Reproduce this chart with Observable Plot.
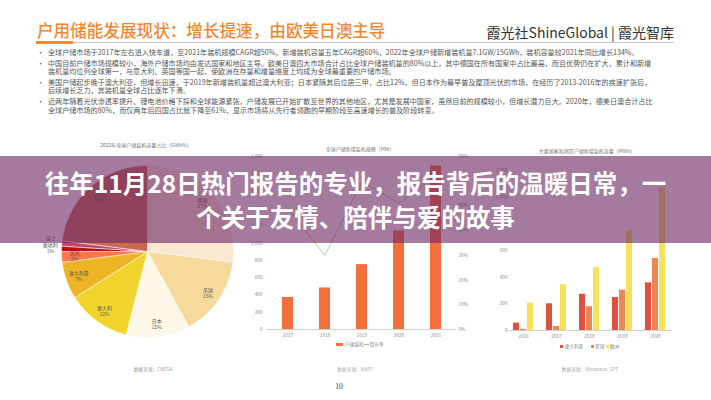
<!DOCTYPE html>
<html><head><meta charset="utf-8">
<script src="https://cdn.jsdelivr.net/npm/d3@7"></script>
<script src="https://cdn.jsdelivr.net/npm/@observablehq/plot@0.6"></script>
<style>
html,body{margin:0;padding:0;background:#fff;}
#page{position:relative;width:711px;height:400px;overflow:hidden;font-family:"Noto Sans CJK SC","Noto Sans",sans-serif;}
.abs{position:absolute;white-space:nowrap;}
.c{transform:translate(-50%,-50%);}
.lm{transform:translate(0,-50%);}
#overlay{position:absolute;left:0;top:156px;width:711px;height:87px;background:rgba(110,40,100,0.62);z-index:10;display:flex;flex-direction:column;justify-content:center;align-items:center;}
#overlay div{color:#fff;font-weight:bold;font-size:24.5px;line-height:34px;text-align:center;white-space:nowrap;}
.bul{font-size:7.1px;color:#555;line-height:8px;}
.small{font-size:5px;color:#888;}
.leg{font-size:4.7px;color:#888;}
</style></head>
<body><div id="page"></div>
<script>
// ---------- data ----------
const headTitle = "户用储能发展现状：增长提速，由欧美日澳主导";
const logoText = "霞光社ShineGlobal | 霞光智库";
const bullets = [
  ["全球户储市场于2017年左右进入快车道，至2021年装机规模CAGR超50%，新增装机容量五年CAGR超60%，2022年全球户储新增装机量7.1GW/15GWh，装机容量较2021年同比增长134%。"],
  ["中国目前户储市场规模较小，海外户储市场均由发达国家和地区主导。欧美日澳四大市场合计占比全球户储装机量的80%以上，其中德国在所有国家中占比最高，而且优势仍在扩大，累计和新增",
   "装机量均位列全球第一，与意大利、英国等国一起，使欧洲在存量和增量维度上均成为全球最重要的户储市场。"],
  ["美国户储起步晚于澳大利亚，但增长迅速，于2019年新增装机量超过澳大利亚；日本紧随其后位居三甲，占比12%，但日本作为最早普及屋顶光伏的市场，在经历了2013-2016年的疾速扩张后，",
   "后续增长乏力，其装机量全球占比逐年下滑。"],
  ["近两年随着光伏渗透率提升、锂电池价格下探和全球能源紧张，户储发展已开始扩散至世界的其他地区，尤其是发展中国家，虽然目前的规模较小，但增长潜力巨大。2020年，德美日澳合计占比",
   "全球户储市场的80%，而仅两年后四国占比就下降至61%，显示市场将从先行者领跑的早期阶段至高速增长的普及阶段转变。"]
];
const overlayLines = ["往年11月28日热门报告的专业，报告背后的温暖日常，一", "个关于友情、陪伴与爱的故事"];

const pieTitle = "2022年全球户储装机容量占比（GWh%）";
const pieLabels = ["德国","美国","日本","意大利","澳大利亚","英国","奥地利","瑞士","其他"];
const pieShares = [27, 15, 12, 12, 7, 2, 1, 1, 23];
const pieSource = "数据来源：CNESA";

const midTitle = "全球户储新增装机规模（MW）";
const midYears = ["2017","2018","2019","2020","2021"];
const midInstall = [370, 480, 750, 1140, 1890];
const midGrowth = [49, 30, 60, 51, 63];
const midSeries = ["户储装机", "增长率"];
const midSource = "数据来源：BNEF";

const rTitle = "主要国家和地区户储新增装机容量（MWh）";
const rYears = ["2016","2017","2018","2019","2020"];
const rSeries = ["澳大利亚","美国","欧洲"];
const rAustralia = [55, 200, 272, 247, 358];
const rUSA = [8, 30, 178, 302, 540];
const rEurope = [205, 343, 472, 745, 1070];
const rSource = "数据来源：Woodmac, SPE";
const pageNo = "10";

// ---------- styles ----------
const pieColors = ["#fce7d2","#f6da9c","#fdf7e8","#f2d52c","#efb326","#f47a4a","#b51414","#c2456a","#c86a52"];
const orange = "#f36f3b", green = "#93cc6e";
const rColors = ["#e0503b","#f08552","#f3e25a"];

const page = document.getElementById("page");
function addText(txt, x, y, cls, style){
  const d = document.createElement("div");
  d.className = "abs " + (cls||"");
  d.textContent = txt;
  d.style.left = x + "px"; d.style.top = y + "px";
  if (style) Object.assign(d.style, style);
  page.appendChild(d); return d;
}
function addBox(x,y,w,h,bg){
  const d = document.createElement("div");
  Object.assign(d.style,{position:"absolute",left:x+"px",top:y+"px",width:w+"px",height:h+"px",background:bg});
  page.appendChild(d); return d;
}

// ---------- header ----------
addText(headTitle, 37, 30, "lm", {fontSize:"16.6px", color:"#ef8731", fontWeight:"500"});
addText(logoText, 674, 32, "", {fontSize:"14px", color:"#333", transform:"translate(-100%,-50%)"});
addBox(36, 42, 638, 1, "#c8c8c8");
addBox(36, 41, 37, 2.5, "#f08a35");
const bulletY = [[52.3],[63.3,71.3],[81.7,89.9],[101,109.6]];
bullets.forEach((b,i)=>{
  addText("•", 37, bulletY[i][0], "lm bul");
  b.forEach((line,j)=> addText(line, 48, bulletY[i][j], "lm bul"));
});

// ---------- pie ----------
const TAU = Math.PI*2;
let acc = 0;
const slices = pieLabels.map((name,i)=>{
  const a0 = acc/100*TAU; acc += pieShares[i]; const a1 = acc/100*TAU;
  return {name, share: pieShares[i], a0, a1, mid:(a0+a1)/2};
});
const piePts = [];
slices.forEach(s=>{
  piePts.push({name:s.name,x:0,y:0});
  const n = Math.max(2, Math.ceil((s.a1-s.a0)/TAU*360));
  for(let k=0;k<=n;k++){const a=s.a0+(s.a1-s.a0)*k/n; piePts.push({name:s.name,x:Math.sin(a),y:Math.cos(a)});}
  piePts.push({name:s.name,x:0,y:0});
});
const big = slices.filter(s=>s.share>1);
const pieSvg = Plot.plot({
  width:300, height:230, margin:0,
  x:{domain:[-1,1], range:[61,233], axis:null},
  y:{domain:[-1,1], range:[187,15], axis:null},
  color:{domain:pieLabels, range:pieColors},
  style:{fontFamily:'"Noto Sans CJK SC",sans-serif', overflow:"visible", background:"transparent"},
  marks:[
    Plot.line(piePts,{x:"x",y:"y",z:"name",fill:"name",stroke:"#fff",strokeWidth:0.5}),
    Plot.text(big,{x:d=>0.85*Math.sin(d.mid), y:d=>0.85*Math.cos(d.mid), text:d=>d.name+"\n"+d.share+"%", fontSize:5, fill:"#555", lineHeight:1.2}),
    Plot.text(slices.filter(s=>s.name==="奥地利"),{x:d=>1.13*Math.sin(d.mid), y:d=>1.13*Math.cos(d.mid), text:d=>d.name+"\n"+d.share+"%", fontSize:5, fill:"#555", lineHeight:1.2}),
    Plot.text(slices.filter(s=>s.name==="瑞士"),{x:d=>1.13*Math.sin(d.mid), y:d=>1.13*Math.cos(d.mid), text:"name", dy:-4, fontSize:5, fill:"#555"})
  ]
});
Object.assign(pieSvg.style,{position:"absolute",left:"0px",top:"150px"});
page.appendChild(pieSvg);
addText(pieTitle, 146, 144, "c small", {color:"#777"});
addText(pieSource, 153, 369, "c leg", {color:"#999"});

// ---------- middle chart ----------
const mid = midYears.map((y,i)=>({year:y, install:midInstall[i], growth:midGrowth[i]}));
const k = 2000/70;
const midSvg = Plot.plot({
  width:250, height:205, marginLeft:37, marginRight:24, marginTop:16, marginBottom:16,
  x:{domain:midYears, paddingInner:0.7, paddingOuter:0.35, label:null},
  y:{domain:[0,2000], label:null},
  style:{fontFamily:'"Noto Sans CJK SC",sans-serif', fontSize:"4.7px", color:"#888", overflow:"visible", background:"transparent"},
  marks:[
    Plot.ruleY([0],{stroke:"#d0d0d0"}),
    Plot.barY(mid,{x:"year", y:"install", fill:orange}),
    Plot.line(mid,{x:"year", y:d=>d.growth*k, stroke:green, strokeWidth:0.8}),
    Plot.axisY(d3.range(0,2001,200),{tickSize:0, tickPadding:5, label:null}),
    Plot.axisY(d3.range(0,71,10).map(p=>p*k),{anchor:"right", tickSize:0, tickPadding:2, tickFormat:v=>Math.round(v/k)+"%", label:null}),
    Plot.axisX({tickSize:0, tickPadding:4, label:null})
  ]
});
Object.assign(midSvg.style,{position:"absolute",left:"230px",top:"140px"});
page.appendChild(midSvg);
addText(midTitle, 360, 148, "c small", {color:"#777"});
addBox(336, 342.6, 7, 3.4, orange);
addText(midSeries[0], 345, 344.3, "lm leg");
addBox(364, 343.9, 4.5, 0.8, green);
addText(midSeries[1], 369.5, 344.3, "lm leg");
addText(midSource, 355, 369, "c leg", {color:"#aaa"});
addText(pageNo, 339, 386, "c", {fontSize:"7.5px", color:"#333", fontFamily:"'Liberation Serif',serif"});

// ---------- right chart ----------
const rVals = [rAustralia, rUSA, rEurope];
const rRows = [];
rYears.forEach((y,i)=> rSeries.forEach((s,j)=> rRows.push({year:y, series:s, value:rVals[j][i]})));
const rSvg = Plot.plot({
  width:241, height:205, marginLeft:35, marginRight:37, marginTop:30, marginBottom:15,
  fx:{domain:rYears, paddingInner:0.33, paddingOuter:0.165, label:null, tickSize:0, tickPadding:4},
  x:{domain:rSeries, padding:0.12, axis:null},
  y:{domain:[0,1200], ticks:d3.range(0,1201,200), tickSize:0, tickPadding:5, label:null},
  color:{domain:rSeries, range:rColors},
  style:{fontFamily:'"Noto Sans CJK SC",sans-serif', fontSize:"4.7px", color:"#888", overflow:"visible", background:"transparent"},
  marks:[
    Plot.ruleY([0],{stroke:"#d0d0d0", insetLeft:-6, insetRight:-6}),
    Plot.barY(rRows,{fx:"year", x:"series", y:"value", fill:"series"})
  ]
});
Object.assign(rSvg.style,{position:"absolute",left:"470px",top:"140px"});
page.appendChild(rSvg);
addText(rTitle, 587, 150, "c small", {color:"#777"});
const legX = [560, 590.5, 605.5];
rSeries.forEach((s,i)=>{
  addBox(legX[i], 344.5, 3.2, 3.2, rColors[i]);
  addText(s, legX[i]+4.5, 346.1, "lm leg");
});
addText(rSource, 590, 369, "c leg", {color:"#aaa"});

// ---------- overlay ----------
const ov = document.createElement("div"); ov.id = "overlay";
overlayLines.forEach(t=>{const d=document.createElement("div"); d.textContent=t; ov.appendChild(d);});
page.appendChild(ov);
</script></body></html>
